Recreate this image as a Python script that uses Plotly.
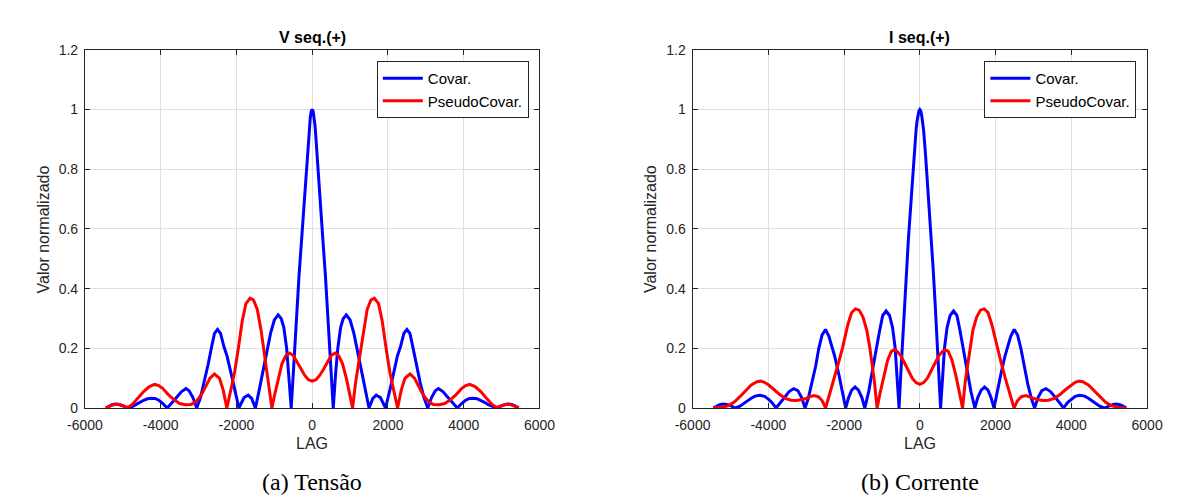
import plotly.graph_objects as go

# ---------------- data ----------------
# Left panel: V seq.(+)
v_cov_lag = [-5450,-5400,-5300,-5200,-5100,-5000,-4880,-4750,-4650,-4550,-4450,-4350,-4250,-4150,-4050,-3950,-3830,-3750,-3650,-3550,-3450,-3330,-3250,-3150,-3050,-2950,-2850,-2750,-2664,-2580,-2500,-2420,-2330,-2250,-2150,-2050,-1935,-1800,-1690,-1600,-1500,-1400,-1300,-1200,-1100,-1000,-900,-820,-750,-675,-620,-555,-500,-450,-400,-350,-300,-250,-200,-150,-100,-75,-50,-25,
             0,
             25,50,75,100,150,200,250,300,350,400,450,500,555,620,675,750,820,900,1000,1100,1200,1300,1400,1500,1600,1690,1800,1935,2050,2150,2250,2330,2420,2500,2580,2664,2750,2850,2950,3050,3150,3250,3330,3450,3550,3650,3750,3830,3950,4050,4150,4250,4350,4450,4550,4650,4750,4880,5000,5100,5200,5300,5400,5450]
v_cov_val = [0.0,0.004,0.01,0.013,0.012,0.008,0.0,0.005,0.011,0.019,0.026,0.031,0.033,0.032,0.026,0.016,0.0,0.01,0.025,0.04,0.055,0.065,0.058,0.035,0.0,0.035,0.085,0.145,0.2,0.25,0.263,0.25,0.205,0.175,0.12,0.06,0.0,0.035,0.043,0.032,0.0,0.06,0.125,0.19,0.25,0.295,0.312,0.3,0.27,0.2,0.12,0.0,0.115,0.23,0.34,0.44,0.53,0.615,0.71,0.8,0.9,0.945,0.975,0.994,
             1.0,
             0.994,0.975,0.945,0.9,0.8,0.71,0.615,0.53,0.44,0.34,0.23,0.115,0.0,0.12,0.2,0.27,0.3,0.312,0.295,0.25,0.19,0.125,0.06,0.0,0.032,0.043,0.035,0.0,0.06,0.12,0.175,0.205,0.25,0.263,0.25,0.2,0.145,0.085,0.035,0.0,0.035,0.058,0.065,0.055,0.04,0.025,0.01,0.0,0.016,0.026,0.032,0.033,0.031,0.026,0.019,0.011,0.005,0.0,0.008,0.012,0.013,0.01,0.004,0.0]

v_pcov_lag = [-5450,-5300,-5150,-5000,-4870,-4750,-4600,-4450,-4300,-4160,-4050,-3950,-3800,-3650,-3500,-3350,-3200,-3100,-3000,-2900,-2800,-2700,-2580,-2450,-2350,-2254,-2150,-2050,-1950,-1850,-1750,-1640,-1550,-1450,-1350,-1250,-1150,-1065,-1000,-900,-800,-700,-600,-500,-400,-300,-200,-100,
              0,
              100,200,300,400,500,600,700,800,900,1000,1065,1150,1250,1350,1450,1550,1640,1750,1850,1950,2050,2150,2254,2350,2450,2580,2700,2800,2900,3000,3100,3200,3350,3500,3650,3800,3950,4050,4160,4300,4450,4600,4750,4870,5000,5150,5300,5450]
v_pcov_val = [0.0,0.009,0.013,0.008,0.002,0.012,0.033,0.055,0.072,0.079,0.075,0.066,0.045,0.028,0.015,0.011,0.012,0.018,0.032,0.05,0.075,0.1,0.114,0.1,0.06,0.0,0.06,0.12,0.2,0.29,0.35,0.368,0.362,0.33,0.26,0.17,0.09,0.0,0.04,0.1,0.148,0.175,0.184,0.176,0.155,0.13,0.11,0.095,
              0.09,
              0.095,0.11,0.13,0.155,0.176,0.184,0.175,0.148,0.1,0.04,0.0,0.09,0.17,0.26,0.33,0.362,0.368,0.35,0.29,0.2,0.12,0.06,0.0,0.06,0.1,0.114,0.1,0.075,0.05,0.032,0.018,0.012,0.011,0.015,0.028,0.045,0.066,0.075,0.079,0.072,0.055,0.033,0.012,0.002,0.008,0.013,0.009,0.0]

# Right panel: I seq.(+)
i_cov_lag = [-5450,-5400,-5300,-5200,-5100,-5000,-4870,-4750,-4650,-4550,-4450,-4350,-4220,-4100,-4000,-3900,-3795,-3720,-3650,-3550,-3450,-3330,-3220,-3120,-3030,-2950,-2850,-2750,-2667,-2580,-2490,-2400,-2320,-2250,-2150,-2050,-1958,-1880,-1800,-1710,-1620,-1530,-1453,-1350,-1250,-1146,-1060,-980,-890,-800,-720,-650,-600,-548,-500,-450,-400,-350,-300,-250,-200,-150,-100,-75,-50,-25,
             0,
             25,50,75,100,150,200,250,300,350,400,450,500,548,600,650,720,800,890,980,1060,1146,1250,1350,1453,1530,1620,1710,1800,1880,1958,2050,2150,2250,2320,2400,2490,2580,2667,2750,2850,2950,3030,3120,3220,3330,3450,3550,3650,3720,3795,3900,4000,4100,4220,4350,4450,4550,4650,4750,4870,5000,5100,5200,5300,5400,5450]
i_cov_val = [0.0,0.004,0.01,0.013,0.012,0.008,0.0,0.006,0.014,0.024,0.033,0.04,0.043,0.039,0.03,0.018,0.0,0.012,0.025,0.04,0.055,0.065,0.058,0.035,0.0,0.03,0.08,0.14,0.2,0.245,0.263,0.24,0.205,0.175,0.12,0.06,0.0,0.035,0.06,0.07,0.06,0.035,0.0,0.055,0.12,0.2,0.26,0.31,0.325,0.31,0.27,0.2,0.1,0.0,0.12,0.24,0.36,0.47,0.57,0.66,0.76,0.85,0.93,0.96,0.98,0.995,
             1.0,
             0.995,0.98,0.96,0.93,0.85,0.76,0.66,0.57,0.47,0.36,0.24,0.12,0.0,0.1,0.2,0.27,0.31,0.325,0.31,0.26,0.2,0.12,0.055,0.0,0.035,0.06,0.07,0.06,0.035,0.0,0.06,0.12,0.175,0.205,0.24,0.263,0.245,0.2,0.14,0.08,0.03,0.0,0.035,0.058,0.065,0.055,0.04,0.025,0.012,0.0,0.018,0.03,0.039,0.043,0.04,0.033,0.024,0.014,0.006,0.0,0.008,0.012,0.013,0.01,0.004,0.0]

i_pcov_lag = [-5450,-5350,-5200,-5050,-4900,-4750,-4600,-4450,-4300,-4200,-4100,-4000,-3850,-3700,-3550,-3400,-3250,-3100,-3000,-2900,-2800,-2680,-2580,-2487,-2370,-2256,-2150,-2044,-1900,-1800,-1700,-1600,-1500,-1400,-1318,-1200,-1128,-1050,-950,-850,-750,-670,-600,-500,-400,-300,-200,-100,
              0,
              100,200,300,400,500,600,670,750,850,950,1050,1128,1200,1318,1400,1500,1600,1700,1800,1900,2044,2150,2256,2370,2487,2580,2680,2800,2900,3000,3100,3250,3400,3550,3700,3850,4000,4100,4200,4300,4450,4600,4750,4900,5050,5200,5350,5450]
i_pcov_val = [0.0,0.001,0.003,0.008,0.02,0.038,0.058,0.077,0.088,0.09,0.086,0.078,0.062,0.045,0.032,0.026,0.025,0.028,0.032,0.038,0.042,0.038,0.025,0.0,0.05,0.1,0.15,0.2,0.28,0.32,0.332,0.328,0.305,0.26,0.2,0.09,0.0,0.05,0.11,0.16,0.19,0.195,0.19,0.175,0.15,0.125,0.1,0.085,
              0.079,
              0.085,0.1,0.125,0.15,0.175,0.19,0.195,0.19,0.16,0.11,0.05,0.0,0.09,0.2,0.26,0.305,0.328,0.332,0.32,0.28,0.2,0.15,0.1,0.05,0.0,0.025,0.038,0.042,0.038,0.032,0.028,0.025,0.026,0.032,0.045,0.062,0.078,0.086,0.09,0.088,0.077,0.058,0.038,0.02,0.008,0.003,0.001,0.0]

x_ticks = [-6000, -4000, -2000, 0, 2000, 4000, 6000]
x_tick_labels = ["-6000", "-4000", "-2000", "0", "2000", "4000", "6000"]
y_ticks = [0, 0.2, 0.4, 0.6, 0.8, 1.0, 1.2]
y_tick_labels = ["0", "0.2", "0.4", "0.6", "0.8", "1", "1.2"]

series_names = ["Covar.", "PseudoCovar."]
panel_titles = ["V seq.(+)", "I seq.(+)"]
captions = ["(a) Tensão", "(b) Corrente"]
x_title = "LAG"
y_title = "Valor normalizado"

# ---------------- figure ----------------
W, H = 1182, 499
BLUE, RED = "#0000ff", "#ff0000"
AX = "#262626"
SANS = "Liberation Sans, Arial, Helvetica, sans-serif"
SERIF = "Liberation Serif, DejaVu Serif, serif"

fig = go.Figure()
fig.add_trace(go.Scatter(x=v_cov_lag, y=v_cov_val, mode="lines", name=series_names[0],
                         line=dict(color=BLUE, width=3), xaxis="x", yaxis="y", legend="legend"))
fig.add_trace(go.Scatter(x=v_pcov_lag, y=v_pcov_val, mode="lines", name=series_names[1],
                         line=dict(color=RED, width=3), xaxis="x", yaxis="y", legend="legend"))
fig.add_trace(go.Scatter(x=i_cov_lag, y=i_cov_val, mode="lines", name=series_names[0],
                         line=dict(color=BLUE, width=3), xaxis="x2", yaxis="y2", legend="legend2"))
fig.add_trace(go.Scatter(x=i_pcov_lag, y=i_pcov_val, mode="lines", name=series_names[1],
                         line=dict(color=RED, width=3), xaxis="x2", yaxis="y2", legend="legend2"))

# pixel geometry of the two plot areas
L1, R1 = 60.7, 528.7
L2, R2 = 686.3, 1154.3
TOP, BOT = 35.0, 405.0

def px(x):
    return x / W

def py(y):
    return 1 - y / H

common_axis = dict(showline=True, linecolor=AX, linewidth=1, mirror="ticks",
                   ticks="inside", ticklen=5, tickcolor=AX, showgrid=True,
                   gridcolor="#e0e0e0", gridwidth=1, zeroline=False,
                   tickfont=dict(family=SANS, size=14, color=AX))

xa = dict(common_axis, range=[-6000, 6000], tickmode="array", tickvals=x_ticks,
          ticktext=x_tick_labels, ticklabelstandoff=4)
ya = dict(common_axis, range=[0, 1.2], tickmode="array", tickvals=y_ticks,
          ticktext=y_tick_labels, ticklabelstandoff=3)

legend_common = dict(xanchor="right", yanchor="top", bgcolor="white", bordercolor=AX,
                     borderwidth=1, font=dict(family=SANS, size=15, color="black"),
                     itemwidth=40, tracegroupgap=0)

fig.update_layout(
    width=W, height=H, margin=dict(l=0, r=0, t=0, b=0),
    paper_bgcolor="white", plot_bgcolor="white",
    xaxis=dict(xa, domain=[px(L1), px(R1)], anchor="y"),
    yaxis=dict(ya, domain=[py(BOT), py(TOP)], anchor="x"),
    xaxis2=dict(xa, domain=[px(L2), px(R2)], anchor="y2"),
    yaxis2=dict(ya, domain=[py(BOT), py(TOP)], anchor="x2"),
    legend=dict(legend_common, x=px(R1 - 11), y=py(46.5)),
    legend2=dict(legend_common, x=px(R2 - 11), y=py(46.5)),
    showlegend=True,
)

ann = []
for i, (L, R) in enumerate([(L1, R1), (L2, R2)]):
    cx = px((L + R) / 2)
    ann.append(dict(text="<b>" + panel_titles[i] + "</b>", x=cx, y=py(22), xref="paper", yref="paper",
                    xanchor="center", yanchor="middle", showarrow=False,
                    font=dict(family=SANS, size=16, color="black")))
    ann.append(dict(text=x_title, x=cx, y=py(442), xref="paper", yref="paper",
                    xanchor="center", yanchor="middle", showarrow=False,
                    font=dict(family=SANS, size=16, color=AX)))
    ann.append(dict(text=y_title, x=px(L - 42.7), y=py((TOP + BOT) / 2), xref="paper", yref="paper",
                    xanchor="center", yanchor="middle", showarrow=False, textangle=-90,
                    font=dict(family=SANS, size=16, color=AX)))
    ann.append(dict(text=captions[i], x=cx, y=py(481), xref="paper", yref="paper",
                    xanchor="center", yanchor="middle", showarrow=False,
                    font=dict(family=SERIF, size=24, color="black")))
fig.update_layout(annotations=ann)

fig.write_html("out.html")
